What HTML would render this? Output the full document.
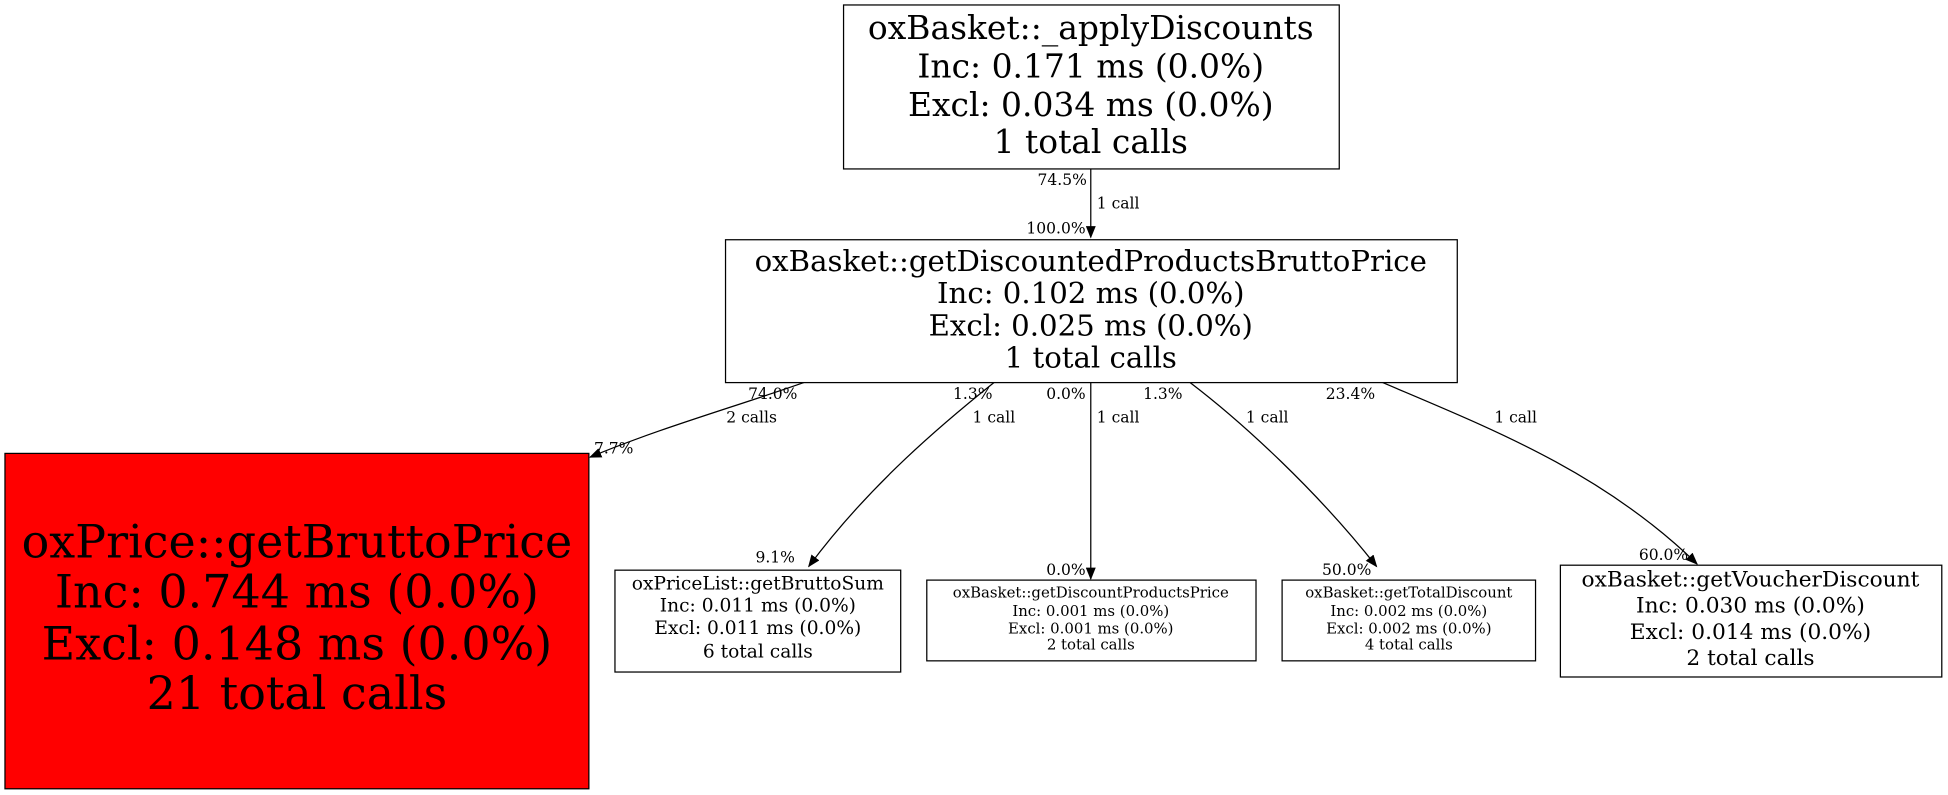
<!DOCTYPE html>
<html><head><meta charset="utf-8"><style>
html,body{margin:0;padding:0;background:#fff;overflow:hidden}
svg{display:block}
text{font-family:"DejaVu Serif",serif;fill:#000}
</style></head><body>
<svg width="1948" height="795" viewBox="0 0 1568 640" preserveAspectRatio="none" xmlns="http://www.w3.org/2000/svg">
<defs><marker id="a" markerWidth="10" markerHeight="8" refX="9" refY="4" orient="auto" markerUnits="userSpaceOnUse"><path d="M0,0 L10,4 L0,8 z" fill="#000"/></marker></defs>
<g fill="none" stroke="#000" stroke-width="1">
<rect x="679" y="4" width="399" height="132" fill="#fff"/>
<rect x="584" y="193" width="589" height="115" fill="#fff"/>
<rect x="4" y="365" width="470" height="270" fill="#f00"/>
<rect x="495" y="459" width="230" height="82" fill="#fff"/>
<rect x="746" y="467" width="265" height="65" fill="#fff"/>
<rect x="1032" y="467" width="204" height="65" fill="#fff"/>
<rect x="1256" y="455" width="307" height="90" fill="#fff"/>
<path d="M878,136 L878,191" marker-end="url(#a)"/>
<path d="M647,308 C590,328 530,345 475,368" marker-end="url(#a)"/>
<path d="M800,308 C760,340 700,390 651,456" marker-end="url(#a)"/>
<path d="M878,308 L878,466" marker-end="url(#a)"/>
<path d="M958,308 C1000,340 1060,395 1108,456" marker-end="url(#a)"/>
<path d="M1113,308 C1200,345 1290,380 1366,454" marker-end="url(#a)"/>
</g>
<g text-anchor="middle" dominant-baseline="central">
<g font-size="26.5"><text x="878" y="22">oxBasket::_applyDiscounts</text><text x="878" y="53">Inc: 0.171 ms (0.0%)</text><text x="878" y="84">Excl: 0.034 ms (0.0%)</text><text x="878" y="114">1 total calls</text></g>
<g font-size="23.5"><text x="878" y="210">oxBasket::getDiscountedProductsBruttoPrice</text><text x="878" y="236">Inc: 0.102 ms (0.0%)</text><text x="878" y="262">Excl: 0.025 ms (0.0%)</text><text x="878" y="288">1 total calls</text></g>
<g font-size="37"><text x="239" y="436">oxPrice::getBruttoPrice</text><text x="239" y="476">Inc: 0.744 ms (0.0%)</text><text x="239" y="518">Excl: 0.148 ms (0.0%)</text><text x="239" y="558">21 total calls</text></g>
<g font-size="15"><text x="610" y="470">oxPriceList::getBruttoSum</text><text x="610" y="488">Inc: 0.011 ms (0.0%)</text><text x="610" y="506">Excl: 0.011 ms (0.0%)</text><text x="610" y="525">6 total calls</text></g>
<g font-size="12" style="font-family:'DejaVu Sans',sans-serif;font-weight:300"><text x="878" y="477">oxBasket::getDiscountProductsPrice</text><text x="878" y="492">Inc: 0.001 ms (0.0%)</text><text x="878" y="506">Excl: 0.001 ms (0.0%)</text><text x="878" y="519">2 total calls</text></g>
<g font-size="12" style="font-family:'DejaVu Sans',sans-serif;font-weight:300"><text x="1134" y="477">oxBasket::getTotalDiscount</text><text x="1134" y="492">Inc: 0.002 ms (0.0%)</text><text x="1134" y="506">Excl: 0.002 ms (0.0%)</text><text x="1134" y="519">4 total calls</text></g>
<g font-size="17.5"><text x="1409" y="467">oxBasket::getVoucherDiscount</text><text x="1409" y="488">Inc: 0.030 ms (0.0%)</text><text x="1409" y="509">Excl: 0.014 ms (0.0%)</text><text x="1409" y="530">2 total calls</text></g>
<g font-size="12.5">
<text x="855" y="145">74.5%</text><text x="900" y="164">1 call</text><text x="850" y="184">100.0%</text>
<text x="622" y="317">74.0%</text><text x="605" y="336">2 calls</text><text x="494" y="361">7.7%</text>
<text x="783" y="317">1.3%</text><text x="800" y="336">1 call</text><text x="624" y="449">9.1%</text>
<text x="858" y="317">0.0%</text><text x="900" y="336">1 call</text><text x="858" y="459">0.0%</text>
<text x="936" y="317">1.3%</text><text x="1020" y="336">1 call</text><text x="1084" y="459">50.0%</text>
<text x="1087" y="317">23.4%</text><text x="1220" y="336">1 call</text><text x="1339" y="447">60.0%</text>
</g>
</g>
</svg>
</body></html>
